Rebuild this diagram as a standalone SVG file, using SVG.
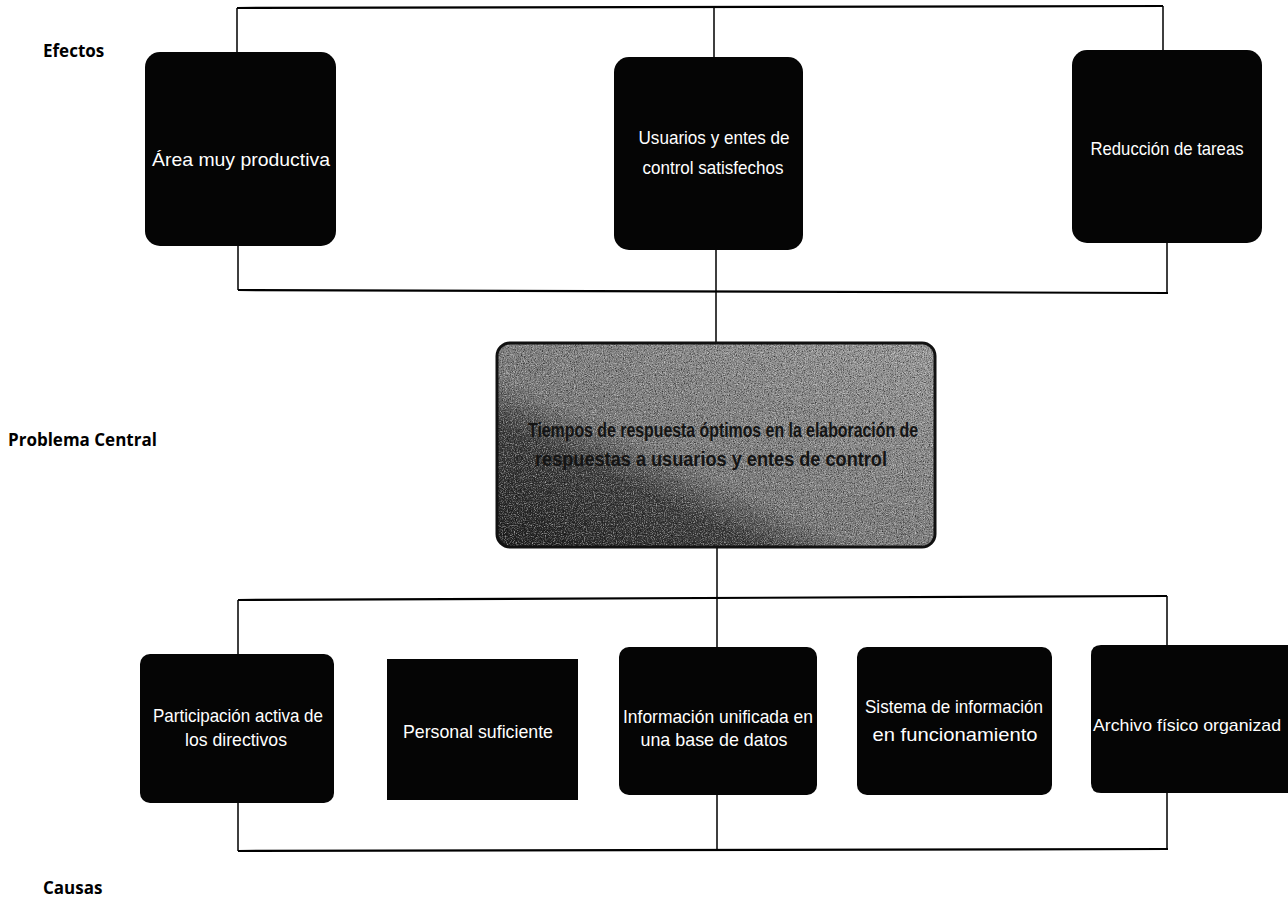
<svg xmlns="http://www.w3.org/2000/svg" width="1288" height="899" viewBox="0 0 1288 899">
<style>
.box{fill:#050505}
.t{fill:#ffffff;font-family:"Liberation Sans",Arial,sans-serif;font-size:19px;text-anchor:middle}
.lbl{fill:#000;font-family:"Open Sans","Liberation Sans",sans-serif;font-weight:bold;font-size:17px}
.ct{fill:#141414;font-family:"Liberation Sans",Arial,sans-serif;font-weight:bold;font-size:20px;text-anchor:middle}
.ln{stroke:#000;stroke-width:1.5;fill:none}
.hl{stroke:#000;stroke-width:2.2;fill:none}
</style>
<defs>
<linearGradient id="cg" x1="0" y1="1" x2="1" y2="0">
<stop offset="0" stop-color="#1e1e1e"/>
<stop offset="0.3" stop-color="#3c3c3c"/>
<stop offset="0.42" stop-color="#7a7a7a"/>
<stop offset="1" stop-color="#9a9a9a"/>
</linearGradient>
<filter id="darkn" x="0" y="0" width="1" height="1">
<feTurbulence type="fractalNoise" baseFrequency="0.85" numOctaves="2" seed="4" result="t"/>
<feColorMatrix in="t" type="matrix" values="0 0 0 0 0  0 0 0 0 0  0 0 0 0 0  2.2 0 0 0 -1.0" result="d"/>
<feComposite in="d" in2="SourceAlpha" operator="in"/>
</filter>
<filter id="lightn" x="0" y="0" width="1" height="1">
<feTurbulence type="fractalNoise" baseFrequency="0.9" numOctaves="2" seed="11" result="t"/>
<feColorMatrix in="t" type="matrix" values="0 0 0 0 1  0 0 0 0 1  0 0 0 0 1  2.2 0 0 0 -1.0" result="d"/>
<feComposite in="d" in2="SourceAlpha" operator="in"/>
</filter>
</defs>
<rect width="1288" height="899" fill="#ffffff"/>

<g id="labels">
<text class="lbl" x="43" y="57">Efectos</text>
<text class="lbl" x="8" y="446">Problema Central</text>
<text class="lbl" x="43" y="894">Causas</text>
</g>

<g id="connectors">
<path class="hl" d="M237 8 L1163 6"/>
<path class="ln" d="M237 8 V52 M714 7 V57 M1163 6 V50"/>
<path class="ln" d="M238 246 V290 M716 250 V343 M1167 243 V293"/>
<path class="hl" d="M238 290 L1168 293"/>
<path class="ln" d="M717 547 V795"/>
<path class="hl" d="M238 600 L1167 596"/>
<path class="ln" d="M238 600 V654 M1167 596 V645"/>
<path class="ln" d="M238 803 V851 M717 795 V851 M1167 793 V849"/>
<path class="hl" d="M238 851 L1168 849"/>
</g>

<g id="efecto1">
<rect class="box" x="145" y="52" width="191" height="194" rx="15"/>
<text class="t" x="241" y="166" textLength="178" lengthAdjust="spacingAndGlyphs">Área muy productiva</text>
</g>
<g id="efecto2">
<rect class="box" x="614" y="57" width="189" height="193" rx="15"/>
<text class="t" x="714" y="144" textLength="151" lengthAdjust="spacingAndGlyphs">Usuarios  y entes de</text>
<text class="t" x="713" y="174" textLength="141" lengthAdjust="spacingAndGlyphs">control satisfechos</text>
</g>
<g id="efecto3">
<rect class="box" x="1072" y="50" width="190" height="193" rx="15"/>
<text class="t" x="1167" y="155" textLength="153" lengthAdjust="spacingAndGlyphs">Reducción de tareas</text>
</g>

<g id="problema">
<rect x="497" y="343" width="438" height="204" rx="13" fill="url(#cg)"/>
<rect x="497" y="343" width="438" height="204" rx="13" fill="#000" filter="url(#darkn)" opacity="0.7"/>
<rect x="497" y="343" width="438" height="204" rx="13" fill="#000" filter="url(#lightn)" opacity="0.6"/>
<rect x="497" y="343" width="438" height="204" rx="13" fill="none" stroke="#111" stroke-width="3"/>
<text class="ct" x="723" y="437" textLength="390" lengthAdjust="spacingAndGlyphs">Tiempos de respuesta óptimos en la elaboración de</text>
<text class="ct" x="711" y="466" textLength="352" lengthAdjust="spacingAndGlyphs">respuestas a usuarios y entes de control</text>
</g>

<g id="causa1">
<rect class="box" x="140" y="654" width="194" height="149" rx="10"/>
<text class="t" x="238" y="722" textLength="170" lengthAdjust="spacingAndGlyphs">Participación activa de</text>
<text class="t" x="236" y="746" textLength="102" lengthAdjust="spacingAndGlyphs">los directivos</text>
</g>
<g id="causa2">
<rect class="box" x="387" y="659" width="191" height="141"/>
<text class="t" x="478" y="738" textLength="150" lengthAdjust="spacingAndGlyphs">Personal suficiente</text>
</g>
<g id="causa3">
<rect class="box" x="619" y="647" width="198" height="148" rx="10"/>
<text class="t" x="718" y="723" textLength="190" lengthAdjust="spacingAndGlyphs">Información unificada en</text>
<text class="t" x="714" y="746" textLength="147" lengthAdjust="spacingAndGlyphs">una base de datos</text>
</g>
<g id="causa4">
<rect class="box" x="857" y="647" width="195" height="148" rx="10"/>
<text class="t" x="954" y="713" textLength="178" lengthAdjust="spacingAndGlyphs">Sistema de información</text>
<text class="t" x="955" y="741" textLength="165" lengthAdjust="spacingAndGlyphs">en  funcionamiento</text>
</g>
<g id="causa5">
<path class="box" d="M1101 645 H1288 V793 H1101 Q1091 793 1091 783 V655 Q1091 645 1101 645 Z"/>
<text class="t" x="1093" y="731" style="text-anchor:start;font-size:17px" textLength="188" lengthAdjust="spacingAndGlyphs">Archivo físico organizad</text>
</g>
</svg>
